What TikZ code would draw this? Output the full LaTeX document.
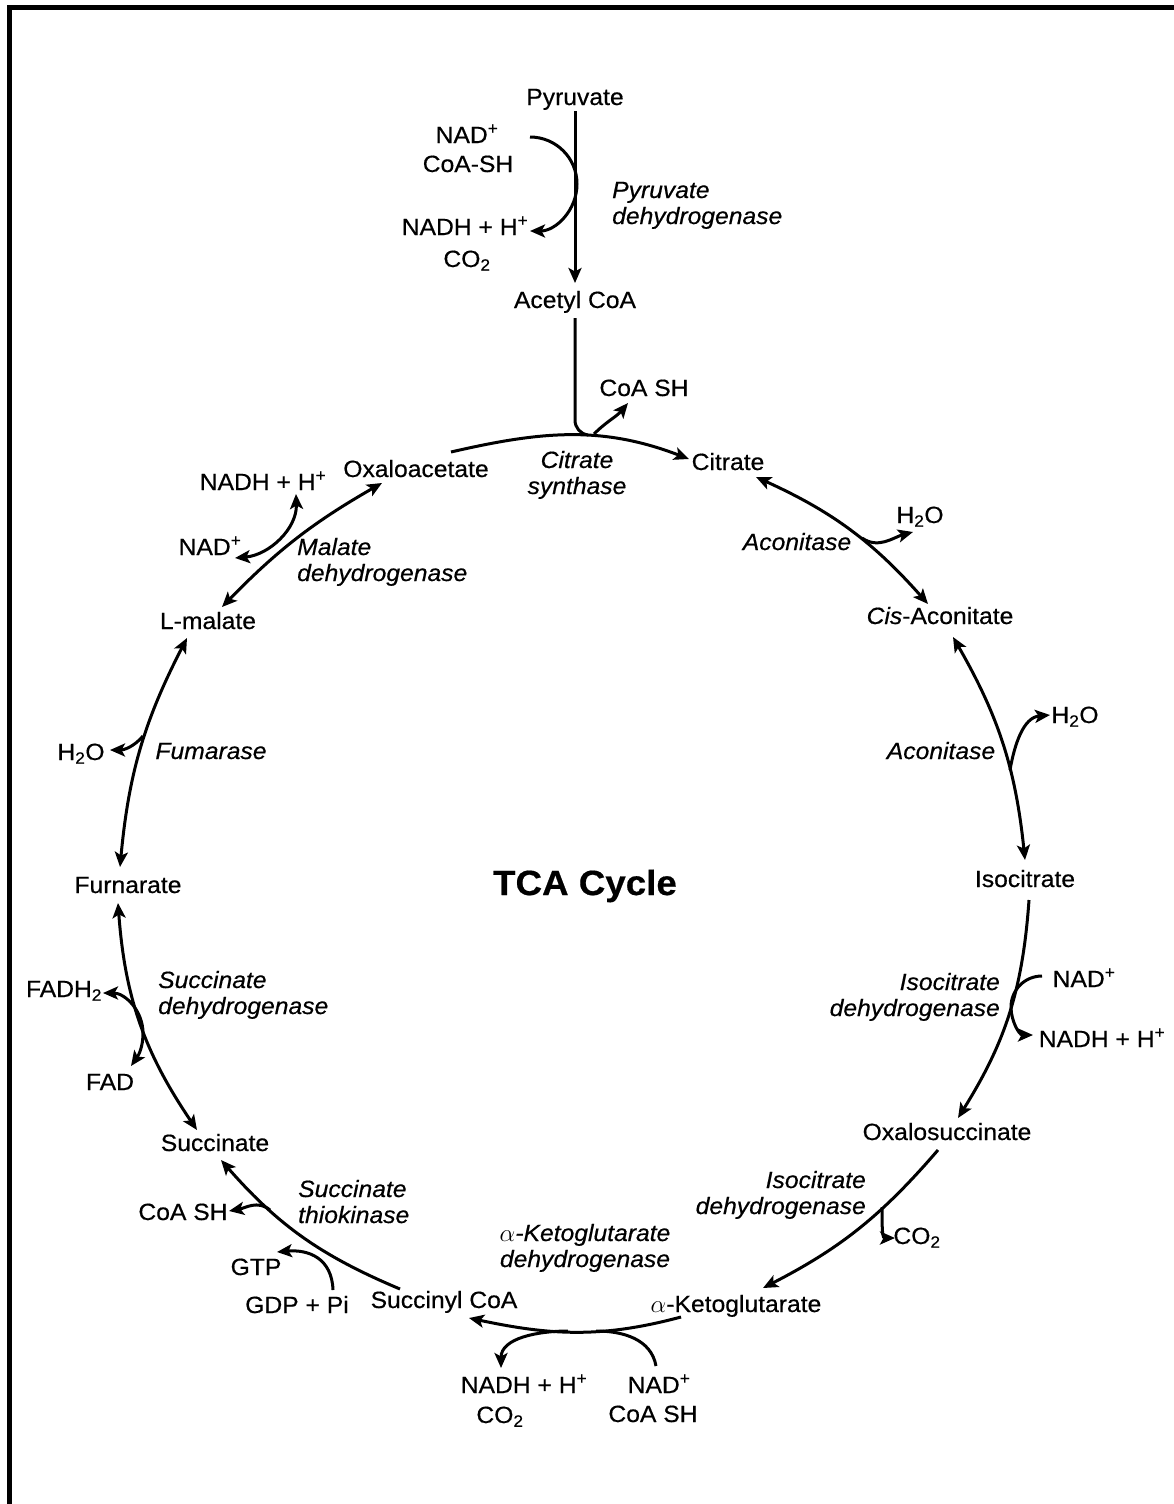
\documentclass[tikz,border=0pt]{standalone}
\usepackage{fontspec}
\setmainfont{Liberation Sans}[FakeBold=0.5, FakeStretch=1.05]
\usetikzlibrary{arrows.meta}
% two-line label, first line on the node's baseline
\newcommand{\twolines}[3]{\begin{tabular}[t]{@{}#1@{}}#2\\#3\end{tabular}}
\newcommand{\plus}{\textsuperscript{+}}
\newcommand{\sub}[1]{\textsubscript{#1}}

\begin{document}
\begin{tikzpicture}[x=1pt,y=1pt,
  lbl/.style={inner sep=0pt, anchor=base, font=\fontsize{23.5}{26}\selectfont},
  enz/.style={inner sep=0pt, anchor=base, font=\fontsize{23.5}{26}\selectfont\itshape},
  flow/.style={line width=3pt, -{Stealth[length=15pt,width=13pt,inset=3.5pt]}},
  flowboth/.style={line width=3pt, {Stealth[length=15pt,width=13pt,inset=3.5pt]}-{Stealth[length=15pt,width=13pt,inset=3.5pt]}},
  plain/.style={line width=3pt}]

\path[use as bounding box] (0,0) rectangle (1174,-1504);
% frame on the top and left edges
\fill (7,-5) rectangle (1174,-10);
\fill (7,-5) rectangle (12,-1504);

% ---------- metabolites ----------
\node[lbl] (pyr)    at (575,-105)  {Pyruvate};
\node[lbl] (nadA)   at (467,-143)  {NAD\plus};
\node[lbl] (coashA) at (468,-172)  {CoA-SH};
\node[lbl] (nadhA)  at (465,-235)  {NADH + H\plus};
\node[lbl] (co2A)   at (467,-267)  {CO\sub{2}};
\node[lbl] (acoa)   at (575,-308)  {Acetyl CoA};
\node[lbl] (coashB) at (644,-396)  {CoA SH};
\node[lbl] (cit)    at (728,-470)  {Citrate};
\node[lbl] (oaa)    at (416,-477)  {Oxaloacetate};
\node[lbl] (nadhB)  at (263,-490)  {NADH + H\plus};
\node[lbl] (nadB)   at (210,-555)  {NAD\plus};
\node[lbl] (lmal)   at (208,-629)  {L-malate};
\node[lbl] (h2oA)   at (920,-523)  {H\sub{2}O};
\node[lbl] (cis)    at (940,-624)  {\textit{Cis}-Aconitate};
\node[lbl] (h2oB)   at (1075,-723) {H\sub{2}O};
\node[lbl] (iso)    at (1025,-887) {Isocitrate};
\node[lbl] (nadC)   at (1084,-987) {NAD\plus};
\node[lbl] (nadhC)  at (1102,-1047) {NADH + H\plus};
\node[lbl] (oxs)    at (947,-1140) {Oxalosuccinate};
\node[lbl] (co2C)   at (917,-1244) {CO\sub{2}};
\node[lbl] (akg)    at (736,-1312) {$\alpha$-Ketoglutarate};
\node[lbl] (sca)    at (444,-1308) {Succinyl CoA};
\node[lbl] (nadhD)  at (524,-1393) {NADH + H\plus};
\node[lbl] (co2D)   at (500,-1423) {CO\sub{2}};
\node[lbl] (nadD)   at (659,-1393) {NAD\plus};
\node[lbl] (coashD) at (653,-1422) {CoA SH};
\node[lbl] (gdp)    at (297,-1313) {GDP + Pi};
\node[lbl] (gtp)    at (256,-1275) {GTP};
\node[lbl] (coashE) at (183,-1220) {CoA SH};
\node[lbl] (succ)   at (215,-1151) {Succinate};
\node[lbl] (fadh)   at (64,-997)   {FADH\sub{2}};
\node[lbl] (fad)    at (110,-1090) {FAD};
\node[lbl] (fum)    at (128,-893)  {Furnarate};
\node[lbl] (h2oC)   at (81,-760)   {H\sub{2}O};

\node[inner sep=0pt, anchor=base, font=\fontsize{35}{40}\selectfont\bfseries] (tca) at (585,-895) {TCA Cycle};

% ---------- enzymes ----------
\node[enz, anchor=base west] (pdh)   at (612,-198)  {\twolines{l}{Pyruvate}{dehydrogenase}};
\node[enz] (cs)                      at (577,-468)  {\twolines{c}{Citrate}{synthase}};
\node[enz] (aco1)                    at (797,-550)  {Aconitase};
\node[enz] (aco2)                    at (941,-759)  {Aconitase};
\node[enz, anchor=base east] (icd1)  at (1000,-990) {\twolines{r}{Isocitrate}{dehydrogenase}};
\node[enz, anchor=base east] (icd2)  at (866,-1188) {\twolines{r}{Isocitrate}{dehydrogenase}};
\node[enz] (akgdh)                   at (585,-1241) {\twolines{c}{$\alpha$-Ketoglutarate}{dehydrogenase}};
\node[enz, anchor=base west] (sts)   at (298,-1197) {\twolines{l}{Succinate}{thiokinase}};
\node[enz, anchor=base west] (sdh)   at (158,-988)  {\twolines{l}{Succinate}{dehydrogenase}};
\node[enz] (fumase)                  at (211,-759)  {Fumarase};
\node[enz, anchor=base west] (mdh)   at (297,-555)  {\twolines{l}{Malate}{dehydrogenase}};

% ---------- pyruvate dehydrogenase ----------
\coordinate (pyr-out) at (575,-111);
\coordinate (acoa-in) at (575,-283);
\draw[flow] (pyr-out) -- (acoa-in);
\coordinate (pdh-in) at (530,-137);
\draw[flow] (pdh-in) arc[start angle=90, end angle=-90, radius=47];

% ---------- citrate synthase ----------
\coordinate (oaa-r) at (451,-452);
\coordinate (cit-l) at (689,-459);
\coordinate (acoa-out) at (575,-318);
\coordinate (cs-join) at (588,-435);
\coordinate (cs-bend) at (575,-420);
\coordinate (cs-out) at (594,-434);
\coordinate (coash-in) at (628,-403);
\draw[flow] (oaa-r) to[out=13,in=159] (cit-l);
\draw[plain] (acoa-out) -- (cs-bend) to[out=-90,in=172] (cs-join);
\draw[flow] (cs-out) to[out=45,in=-130] (coash-in);

% ---------- aconitase ----------
\coordinate (cit-a) at (756,-477);
\coordinate (cis-a) at (928,-604);
\draw[flowboth] (cit-a) to[bend left=12] (cis-a);
\coordinate (w1-a) at (862,-538);
\coordinate (w1-b) at (913,-532);
\draw[flow] (w1-a) to[out=-35,in=195] (w1-b);

\coordinate (cis-b) at (953,-637);
\coordinate (iso-a) at (1025,-860);
\draw[flowboth] (cis-b) to[bend left=12] (iso-a);
\coordinate (w2-a) at (1010,-770);
\coordinate (w2-b) at (1050,-715);
\draw[flow] (w2-a) to[out=80,in=185] (w2-b);

% ---------- isocitrate dehydrogenase ----------
\coordinate (iso-b) at (1029,-900);
\coordinate (oxs-a) at (958,-1118);
\draw[flow] (iso-b) to[bend left=14] (oxs-a);
\coordinate (n1-a) at (1042,-976);
\coordinate (n1-m) at (1011,-1007);
\coordinate (n1-b) at (1033,-1035);
\draw[flow] (n1-a) to[out=180,in=90] (n1-m) to[out=-90,in=180] (n1-b);

\coordinate (oxs-b) at (938,-1150);
\coordinate (akg-a) at (763,-1288);
\draw[flow] (oxs-b) to[bend left=11] (akg-a);
\coordinate (c1-a) at (882,-1207);
\coordinate (c1-b) at (895,-1238);
\draw[flow] (c1-a) to[out=-90,in=180] (c1-b);

% ---------- alpha-ketoglutarate dehydrogenase ----------
\coordinate (akg-b) at (681,-1317);
\coordinate (sca-a) at (469,-1318);
\draw[flow] (akg-b) to[out=-165,in=-12] (sca-a);
\coordinate (n2-a) at (656,-1366);
\coordinate (n2-b) at (596,-1331);
\draw[plain] (n2-a) to[out=100,in=0] (n2-b);
\coordinate (n3-a) at (568,-1331);
\coordinate (n3-b) at (501,-1368);
\draw[flow] (n3-a) to[out=180,in=90] (n3-b);

% ---------- succinate thiokinase ----------
\coordinate (sca-b) at (400,-1289);
\coordinate (succ-a) at (221,-1160);
\draw[flow] (sca-b) to[bend left=13] (succ-a);
\coordinate (s1-a) at (270,-1210);
\coordinate (s1-b) at (229,-1211);
\draw[flow] (s1-a) to[out=140,in=10] (s1-b);
\coordinate (g1-a) at (333,-1290);
\coordinate (g1-b) at (277,-1252);
\draw[flow] (g1-a) to[out=92,in=5,looseness=1.2] (g1-b);

% ---------- succinate dehydrogenase ----------
\coordinate (fum-a) at (118,-903);
\coordinate (succ-b) at (197,-1130);
\draw[flowboth] (fum-a) to[bend right=15] (succ-b);
\coordinate (f1-a) at (103,-993);
\coordinate (f1-m) at (143,-1033);
\coordinate (f1-b) at (131,-1066);
\draw[flowboth] (f1-a) to[out=0,in=90] (f1-m) to[out=-90,in=55] (f1-b);

% ---------- fumarase ----------
\coordinate (fum-b) at (120,-867);
\coordinate (mal-a) at (187,-638);
\draw[flowboth] (fum-b) to[bend left=11] (mal-a);
\coordinate (w3-a) at (143,-736);
\coordinate (w3-b) at (110,-750);
\draw[flow] (w3-a) to[out=-130,in=0] (w3-b);

% ---------- malate dehydrogenase ----------
\coordinate (mal-b) at (222,-607);
\coordinate (oaa-a) at (382,-483);
\draw[flowboth] (mal-b) to[bend left=8] (oaa-a);
\coordinate (m1-a) at (296,-494);
\coordinate (m1-b) at (235,-558);
\draw[flowboth] (m1-a) to[out=-88,in=5] (m1-b);

\end{tikzpicture}
\end{document}
